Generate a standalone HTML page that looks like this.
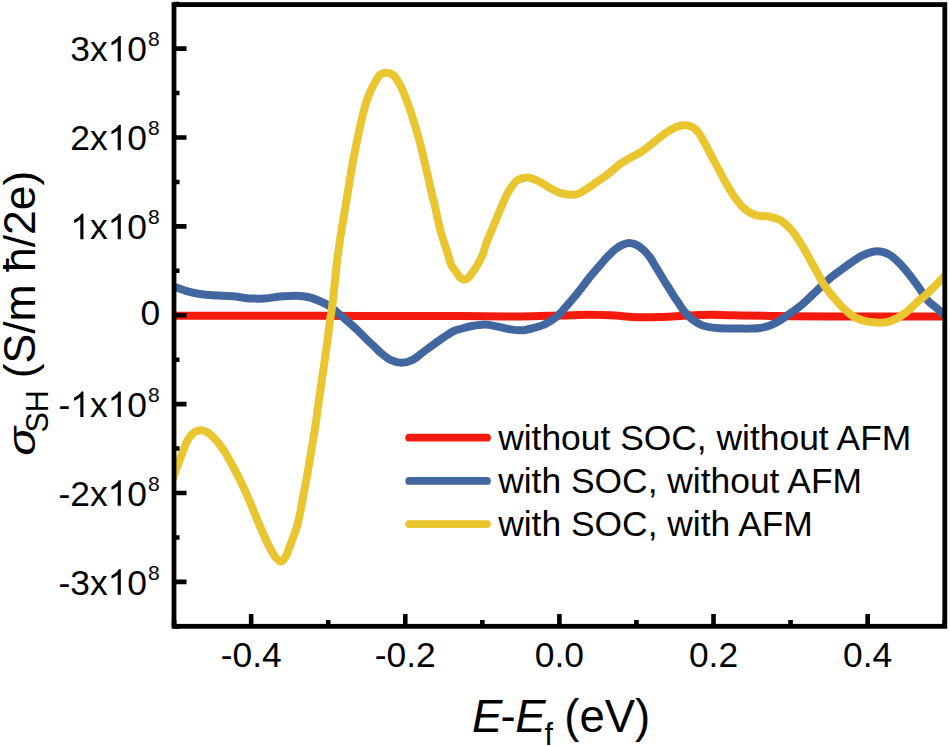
<!DOCTYPE html>
<html><head><meta charset="utf-8"><style>
html,body{margin:0;padding:0;background:#fff;}
body{width:950px;height:746px;overflow:hidden;}
svg{display:block;}
text{font-family:"Liberation Sans",sans-serif;fill:#000;}
</style></head><body>
<svg width="950" height="746" viewBox="0 0 950 746">
<rect width="950" height="746" fill="#fff"/>
<defs><clipPath id="c"><rect x="174" y="4.5" width="771" height="622"/></clipPath></defs>
<g clip-path="url(#c)" fill="none" stroke-linejoin="round" stroke-linecap="round" stroke-width="8">
<path d="M168.0,315.7 C193.3,315.7 270.4,315.7 320.0,315.8 C367.6,315.9 423.1,316.0 460.0,316.1 C484.2,316.2 502.0,316.6 520.0,316.4 C534.7,316.3 547.6,315.8 560.0,315.5 C570.7,315.3 581.0,314.8 590.0,314.8 C597.3,314.8 602.7,315.0 610.0,315.3 C619.0,315.7 631.0,317.0 640.0,317.2 C647.3,317.4 653.3,317.2 660.0,317.0 C666.7,316.8 673.3,316.3 680.0,316.0 C686.7,315.7 693.3,315.2 700.0,315.0 C706.7,314.8 713.3,314.8 720.0,314.9 C726.7,315.0 732.2,315.2 740.0,315.4 C751.0,315.6 765.9,315.8 780.0,316.0 C795.7,316.2 809.7,316.4 830.0,316.5 C861.4,316.7 930.0,316.6 950.0,316.6" stroke="#F41A0E"/>
<path d="M168.0,285.5 C169.4,285.9 173.5,286.8 176.3,287.6 C179.4,288.5 182.2,289.8 185.8,290.8 C190.4,292.1 196.3,293.5 201.6,294.3 C206.8,295.1 212.1,295.1 217.4,295.4 C222.7,295.7 227.9,295.8 233.2,296.3 C238.5,296.8 243.7,298.1 249.0,298.4 C254.2,298.7 259.5,298.7 264.7,298.4 C270.0,298.1 275.2,297.0 280.5,296.5 C285.8,296.1 291.4,295.6 296.3,295.7 C300.5,295.8 304.2,296.1 308.0,297.0 C311.9,297.9 315.9,299.5 319.5,301.0 C322.8,302.4 325.8,303.8 328.8,305.7 C332.0,307.8 335.1,310.6 338.2,313.2 C341.3,315.8 344.4,318.5 347.5,321.2 C350.6,324.0 353.8,326.7 356.9,329.6 C360.1,332.6 363.1,335.9 366.3,339.0 C369.4,342.0 373.1,345.4 375.7,347.9 C377.6,349.7 378.5,350.9 380.5,352.6 C383.3,354.9 387.4,358.5 391.1,360.2 C394.5,361.8 398.1,362.8 401.6,362.8 C405.1,362.8 408.7,361.8 412.1,360.2 C415.8,358.5 419.1,355.2 422.6,352.6 C426.1,350.0 429.7,347.3 433.2,344.7 C436.7,342.2 440.2,339.7 443.7,337.4 C447.1,335.2 450.7,332.5 454.0,331.0 C456.8,329.7 459.2,329.3 462.0,328.5 C465.1,327.6 468.4,326.7 472.0,326.0 C476.1,325.2 480.9,324.3 485.3,324.4 C489.6,324.5 493.7,325.8 497.9,326.6 C502.1,327.4 506.3,328.8 510.5,329.4 C514.7,330.0 519.0,330.5 523.2,330.2 C527.4,329.9 532.0,328.3 535.8,327.3 C538.9,326.4 541.7,325.7 544.2,324.6 C546.5,323.6 548.4,322.3 550.5,321.0 C552.7,319.6 555.1,318.0 556.9,316.5 C558.5,315.2 559.5,314.1 561.0,312.5 C562.9,310.5 565.0,307.9 567.0,305.5 C569.1,303.0 571.3,300.6 573.5,298.0 C575.8,295.2 577.9,292.5 580.5,289.3 C583.7,285.2 587.5,279.9 591.1,275.5 C594.6,271.3 598.8,266.5 601.6,263.3 C603.4,261.3 604.4,260.0 606.0,258.3 C607.8,256.3 610.0,254.0 612.0,252.2 C613.7,250.6 615.2,249.2 617.0,248.0 C618.8,246.8 620.6,245.6 622.6,244.8 C624.7,243.9 627.3,243.0 629.5,243.0 C631.4,243.0 633.3,243.6 635.0,244.3 C636.8,245.0 638.2,245.7 640.0,247.0 C642.7,249.0 646.7,253.0 649.1,256.1 C651.2,258.7 652.4,261.4 654.1,264.1 C655.8,266.8 657.5,269.5 659.1,272.2 C660.7,274.9 662.3,277.5 663.9,280.2 C665.5,282.9 667.2,285.5 668.9,288.2 C670.6,290.9 672.4,293.8 674.0,296.3 C675.4,298.5 676.6,300.2 678.2,302.5 C680.1,305.3 682.3,309.0 684.7,311.9 C687.0,314.7 689.4,317.2 692.2,319.4 C695.0,321.6 698.4,323.8 701.6,325.1 C704.6,326.4 707.9,326.9 711.0,327.4 C714.0,327.9 716.9,328.1 720.0,328.3 C723.2,328.5 726.7,328.4 730.0,328.4 C733.3,328.5 736.7,328.6 740.0,328.6 C743.3,328.6 746.7,328.7 750.0,328.6 C753.3,328.5 756.7,328.5 760.0,328.0 C763.4,327.5 766.7,326.7 770.0,325.5 C773.4,324.2 776.7,322.4 780.0,320.5 C783.4,318.5 786.6,315.9 790.0,313.5 C793.5,311.0 797.4,308.5 800.8,305.7 C804.1,303.0 807.3,299.7 810.2,297.0 C812.7,294.7 814.7,292.6 817.0,290.5 C819.2,288.4 821.4,286.3 823.6,284.2 C825.7,282.2 827.5,280.3 830.0,278.2 C833.0,275.7 837.0,272.9 840.5,270.3 C844.0,267.7 847.5,265.0 851.1,262.6 C854.6,260.2 858.0,257.6 861.6,255.8 C865.0,254.1 869.2,252.5 872.1,251.8 C874.1,251.3 875.6,251.2 877.4,251.2 C879.1,251.2 880.8,251.3 882.6,251.8 C884.9,252.4 887.5,253.4 890.0,255.0 C893.1,257.0 896.4,260.2 899.4,263.2 C902.6,266.5 905.7,270.2 908.8,274.0 C912.0,278.0 915.1,282.2 918.2,286.5 C921.4,291.0 924.2,296.5 927.6,300.3 C930.5,303.6 934.4,306.0 937.0,308.3 C939.0,310.1 940.2,311.4 942.1,313.0 C944.4,314.9 948.7,318.0 950.0,319.0" stroke="#4267A0"/>
<path d="M168.0,492.0 C169.5,487.8 174.5,473.8 177.0,467.0 C178.7,462.3 180.0,459.2 181.5,455.2 C183.0,451.2 184.7,446.4 186.2,443.1 C187.3,440.7 188.3,438.9 189.5,437.2 C190.6,435.7 191.8,434.3 193.1,433.3 C194.2,432.4 195.2,431.7 196.5,431.2 C197.9,430.7 199.4,430.2 201.0,430.3 C202.9,430.4 205.0,430.9 207.0,432.0 C209.6,433.4 212.4,436.3 215.0,439.0 C217.9,442.1 220.8,445.9 223.5,450.0 C226.6,454.6 229.6,460.3 232.5,465.5 C235.3,470.6 237.9,475.6 240.5,481.0 C243.2,486.6 245.9,492.5 248.5,498.5 C251.2,504.8 253.9,511.7 256.5,518.0 C259.0,524.0 261.5,530.0 264.0,535.5 C266.3,540.6 268.7,545.9 271.0,550.0 C272.8,553.3 274.5,556.5 276.5,558.5 C278.0,560.0 280.0,561.8 281.5,561.5 C283.2,561.2 284.7,558.3 286.0,556.0 C287.8,553.0 288.8,548.7 290.4,544.5 C292.3,539.6 294.7,534.0 296.4,528.5 C298.1,522.9 299.3,516.6 300.5,511.0 C301.6,506.0 302.2,501.9 303.2,496.5 C304.5,489.5 306.3,480.4 307.7,472.3 C309.1,464.3 310.4,456.2 311.7,448.2 C313.0,440.2 314.5,432.1 315.7,424.1 C316.9,416.1 317.6,409.3 318.9,400.0 C320.7,387.3 324.0,365.7 325.5,355.0 C326.3,349.1 326.8,346.2 327.4,341.3 C328.2,335.5 328.8,328.8 329.7,322.5 C330.5,316.3 331.7,310.0 332.5,303.8 C333.3,297.5 333.9,291.7 334.6,285.0 C335.4,277.3 336.2,268.2 337.2,260.0 C338.2,252.0 339.3,244.4 340.5,236.5 C341.7,228.5 343.2,220.4 344.5,212.3 C345.8,204.3 347.2,196.2 348.5,188.2 C349.8,180.2 351.1,172.0 352.5,164.1 C353.9,156.3 355.7,147.5 357.0,141.0 C358.0,136.2 358.7,132.9 359.7,128.4 C360.9,123.1 362.3,116.4 363.7,111.3 C364.8,107.1 365.8,103.7 367.1,99.9 C368.4,96.1 370.0,92.0 371.7,88.5 C373.3,85.2 375.2,81.9 376.8,79.4 C377.9,77.6 378.8,75.9 380.0,74.8 C381.0,73.9 382.1,73.4 383.5,73.1 C385.2,72.7 387.8,72.7 389.5,73.1 C390.9,73.4 391.9,73.9 393.0,74.8 C394.4,75.9 395.5,77.5 396.8,79.4 C398.5,81.9 400.3,85.2 401.9,88.5 C403.6,92.1 405.0,95.9 406.5,100.0 C408.3,104.7 410.2,110.1 411.8,115.0 C413.3,119.6 414.6,123.9 415.9,128.4 C417.2,132.9 418.5,137.3 419.7,141.8 C420.9,146.3 422.1,151.2 423.0,155.2 C423.8,158.4 424.3,160.8 425.0,164.0 C425.9,167.7 426.9,171.8 427.9,176.1 C429.1,181.1 430.2,186.8 431.5,192.2 C432.8,197.6 434.4,203.4 435.5,208.3 C436.5,212.5 436.9,215.8 437.9,220.0 C439.0,224.9 440.4,230.7 442.0,236.0 C443.6,241.5 445.9,247.4 447.5,252.5 C448.9,257.0 449.7,261.7 451.4,265.2 C452.7,267.9 454.6,269.7 456.1,271.9 C457.6,274.0 458.9,276.8 460.5,278.0 C461.7,278.9 463.0,279.4 464.2,279.4 C465.5,279.4 466.8,278.9 468.0,278.0 C469.7,276.8 471.3,274.0 472.8,271.9 C474.3,269.8 475.7,267.7 477.2,265.2 C479.0,262.2 481.0,258.7 482.5,255.0 C484.1,251.0 485.0,246.6 486.6,242.2 C488.4,237.4 490.9,232.3 493.0,227.2 C495.2,221.9 497.3,216.5 499.6,211.1 C501.9,205.7 504.5,199.1 506.6,195.0 C508.0,192.3 509.0,190.7 510.5,188.5 C512.2,186.1 514.1,182.8 516.2,181.1 C517.9,179.7 519.8,178.9 521.8,178.3 C523.8,177.7 526.1,177.3 528.3,177.5 C530.9,177.8 534.2,179.5 536.3,180.3 C537.6,180.8 538.2,181.0 539.5,181.7 C541.8,182.9 545.7,185.6 548.9,187.4 C552.0,189.1 555.2,191.0 558.4,192.2 C561.5,193.3 564.7,194.2 567.9,194.5 C571.0,194.8 574.3,194.9 577.4,194.0 C580.7,193.1 583.7,190.7 586.8,188.8 C590.0,186.8 593.1,184.4 596.3,182.2 C599.5,180.1 602.7,178.2 605.8,175.9 C609.0,173.5 612.6,170.1 615.3,167.9 C617.3,166.3 618.4,165.2 620.5,163.7 C623.4,161.7 627.6,159.4 631.1,157.4 C634.6,155.4 638.2,153.8 641.6,151.6 C645.2,149.3 648.6,146.4 652.1,143.7 C655.6,140.9 659.0,137.8 662.6,135.2 C666.1,132.7 669.6,130.1 673.2,128.4 C676.6,126.8 680.4,125.4 683.7,125.2 C686.6,125.0 689.7,125.6 692.1,126.8 C694.4,127.9 696.1,129.7 698.0,132.0 C700.5,134.9 702.7,139.5 705.0,143.5 C707.4,147.8 709.7,152.5 712.0,157.0 C714.3,161.4 716.6,165.8 719.0,170.2 C721.4,174.7 723.7,179.2 726.3,183.6 C728.9,188.1 731.6,192.9 734.5,197.0 C737.3,200.9 739.9,204.7 743.3,207.7 C746.8,210.7 751.0,213.6 755.3,215.1 C759.5,216.5 764.4,215.6 768.7,216.5 C772.9,217.4 777.1,218.4 780.7,220.4 C784.2,222.4 787.4,225.6 790.1,228.5 C792.7,231.2 794.6,234.1 796.8,237.2 C799.1,240.5 801.3,244.2 803.5,247.9 C805.8,251.8 808.0,256.0 810.2,260.0 C812.4,264.0 814.7,268.0 816.9,272.0 C819.1,276.0 821.3,280.4 823.6,284.1 C825.7,287.5 828.1,290.6 830.3,293.5 C832.3,296.1 834.3,298.2 836.3,300.5 C838.4,302.8 840.4,305.3 842.6,307.4 C844.7,309.4 846.7,311.4 848.9,313.1 C851.0,314.7 853.1,316.3 855.3,317.5 C857.3,318.6 859.5,319.3 861.6,320.0 C863.7,320.7 865.8,321.2 867.9,321.6 C870.0,322.0 872.1,322.1 874.2,322.3 C876.3,322.5 878.4,322.8 880.5,322.8 C882.6,322.8 884.7,322.7 886.8,322.2 C889.0,321.7 891.1,320.9 893.2,320.0 C895.3,319.1 897.4,318.0 899.5,316.8 C901.6,315.5 903.7,314.1 905.8,312.5 C908.0,310.8 910.0,308.9 912.1,307.0 C914.2,305.1 916.3,302.9 918.4,301.0 C920.5,299.2 922.6,297.8 924.7,296.0 C926.9,294.1 928.9,291.9 931.0,289.8 C933.1,287.7 935.2,285.6 937.2,283.6 C939.0,281.8 940.5,280.3 942.4,278.3 C944.7,275.9 948.7,271.4 950.0,270.0" stroke="#E9C630"/>
</g>
<rect x="174" y="4.6" width="770.8" height="621.7" fill="none" stroke="#000" stroke-width="4.8"/>
<path d="M174,626.33H179.5 M174,581.89H186.5 M174,537.45H179.5 M174,493.01H186.5 M174,448.57H179.5 M174,404.13H186.5 M174,359.69H179.5 M174,315.25H186.5 M174,270.81H179.5 M174,226.37H186.5 M174,181.93H179.5 M174,137.49H186.5 M174,93.05H179.5 M174,48.61H186.5 M174,4.17H179.5 M174.10,626.3V620 M251.16,626.3V614 M328.22,626.3V620 M405.28,626.3V614 M482.34,626.3V620 M559.40,626.3V614 M636.46,626.3V620 M713.52,626.3V614 M790.58,626.3V620 M867.64,626.3V614 M944.70,626.3V620" stroke="#000" stroke-width="4.6" fill="none"/>
<text x="147" y="61.4" text-anchor="end" font-size="35.4">0</text>
<path transform="translate(107.62,61.41) scale(0.017285,-0.017285)" d="M763,0L583,0L583,1147Q518,1085 412,1023T223,930L223,1104Q374,1175 487,1276T647,1472L763,1472Z"/>
<text x="107.62" y="61.4" text-anchor="end" font-size="35.4">3x</text>
<text x="159.6" y="46.2" text-anchor="end" font-size="21">8</text>
<text x="147" y="150.3" text-anchor="end" font-size="35.4">0</text>
<path transform="translate(107.62,150.29) scale(0.017285,-0.017285)" d="M763,0L583,0L583,1147Q518,1085 412,1023T223,930L223,1104Q374,1175 487,1276T647,1472L763,1472Z"/>
<text x="107.62" y="150.3" text-anchor="end" font-size="35.4">2x</text>
<text x="159.6" y="135.1" text-anchor="end" font-size="21">8</text>
<text x="147" y="239.2" text-anchor="end" font-size="35.4">0</text>
<path transform="translate(107.62,239.17) scale(0.017285,-0.017285)" d="M763,0L583,0L583,1147Q518,1085 412,1023T223,930L223,1104Q374,1175 487,1276T647,1472L763,1472Z"/>
<text x="107.62" y="239.2" text-anchor="end" font-size="35.4">x</text>
<path transform="translate(70.24,239.17) scale(0.017285,-0.017285)" d="M763,0L583,0L583,1147Q518,1085 412,1023T223,930L223,1104Q374,1175 487,1276T647,1472L763,1472Z"/>
<text x="159.6" y="224.0" text-anchor="end" font-size="21">8</text>
<text x="147" y="416.9" text-anchor="end" font-size="35.4">0</text>
<path transform="translate(107.62,416.93) scale(0.017285,-0.017285)" d="M763,0L583,0L583,1147Q518,1085 412,1023T223,930L223,1104Q374,1175 487,1276T647,1472L763,1472Z"/>
<text x="107.62" y="416.9" text-anchor="end" font-size="35.4">x</text>
<path transform="translate(70.24,416.93) scale(0.017285,-0.017285)" d="M763,0L583,0L583,1147Q518,1085 412,1023T223,930L223,1104Q374,1175 487,1276T647,1472L763,1472Z"/>
<text x="70.24" y="416.9" text-anchor="end" font-size="35.4">-</text>
<text x="159.6" y="401.7" text-anchor="end" font-size="21">8</text>
<text x="147" y="505.8" text-anchor="end" font-size="35.4">0</text>
<path transform="translate(107.62,505.81) scale(0.017285,-0.017285)" d="M763,0L583,0L583,1147Q518,1085 412,1023T223,930L223,1104Q374,1175 487,1276T647,1472L763,1472Z"/>
<text x="107.62" y="505.8" text-anchor="end" font-size="35.4">-2x</text>
<text x="159.6" y="490.6" text-anchor="end" font-size="21">8</text>
<text x="147" y="594.7" text-anchor="end" font-size="35.4">0</text>
<path transform="translate(107.62,594.69) scale(0.017285,-0.017285)" d="M763,0L583,0L583,1147Q518,1085 412,1023T223,930L223,1104Q374,1175 487,1276T647,1472L763,1472Z"/>
<text x="107.62" y="594.7" text-anchor="end" font-size="35.4">-3x</text>
<text x="159.6" y="579.5" text-anchor="end" font-size="21">8</text>
<text x="160.2" y="325.4" text-anchor="end" font-size="35.4">0</text>
<text x="251.2" y="666.7" text-anchor="middle" font-size="35.4">-0.4</text>
<text x="405.3" y="666.7" text-anchor="middle" font-size="35.4">-0.2</text>
<text x="559.4" y="666.7" text-anchor="middle" font-size="35.4">0.0</text>
<text x="713.5" y="666.7" text-anchor="middle" font-size="35.4">0.2</text>
<text x="867.6" y="666.7" text-anchor="middle" font-size="35.4">0.4</text>
<text x="472" y="732.2" font-size="45.5"><tspan font-style="italic">E</tspan><tspan dx="-1.8">-</tspan><tspan font-style="italic" dx="-0.4">E</tspan></text>
<text x="544.5" y="745" font-size="30.5">f</text>
<text x="564.3" y="732.2" font-size="45.5">(eV)</text>
<text transform="translate(35.3,455.8) rotate(-90) scale(1.05,0.87)" font-size="45.5" font-style="italic">σ</text>
<text transform="translate(47.5,432.5) rotate(-90)" font-size="30.5">SH</text>
<text transform="translate(35.3,378.3) rotate(-90)" font-size="44.5">(S/m ħ/2e)</text>
<path d="M409.2,437.7H487" stroke="#F41A0E" stroke-width="7.8" stroke-linecap="round"/>
<text x="498.2" y="449.5" font-size="35.4">without SOC, without AFM</text>
<path d="M409.2,480.9H487" stroke="#4267A0" stroke-width="7.8" stroke-linecap="round"/>
<text x="498.2" y="492.7" font-size="35.4">with SOC, without AFM</text>
<path d="M409.2,524.1H487" stroke="#E9C630" stroke-width="7.8" stroke-linecap="round"/>
<text x="498.2" y="535.9" font-size="35.4">with SOC, with AFM</text>
</svg>
</body></html>
